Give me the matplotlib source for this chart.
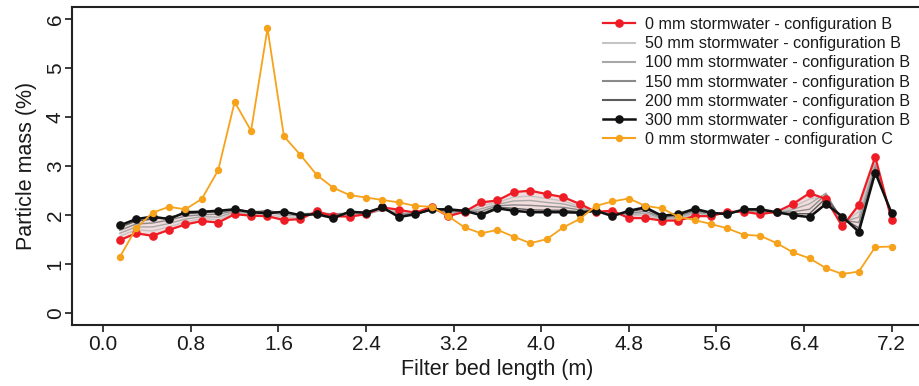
import matplotlib
matplotlib.use("Agg")
import matplotlib.pyplot as plt
import numpy as np

plt.rcParams["font.family"] = ["Liberation Sans", "DejaVu Sans"]

# Positions along the filter bed (m), one sample every 0.15 m
posicions = [0.15, 0.30, 0.45, 0.60, 0.75, 0.90, 1.05, 1.20, 1.35, 1.50, 1.65, 1.80,
             1.95, 2.10, 2.25, 2.40, 2.55, 2.70, 2.85, 3.00, 3.15, 3.30, 3.45, 3.60,
             3.75, 3.90, 4.05, 4.20, 4.35, 4.50, 4.65, 4.80, 4.95, 5.10, 5.25, 5.40,
             5.55, 5.70, 5.85, 6.00, 6.15, 6.30, 6.45, 6.60, 6.75, 6.90, 7.05, 7.20]

# Particle mass (%) for configuration B
b_0mm = [1.49, 1.63, 1.58, 1.70, 1.81, 1.88, 1.85, 2.02, 1.99, 1.98, 1.90, 1.92,
         2.08, 1.98, 1.97, 2.02, 2.16, 2.11, 2.05, 2.17, 1.98, 2.07, 2.26, 2.30,
         2.47, 2.50, 2.43, 2.37, 2.23, 2.07, 2.09, 1.94, 1.94, 1.89, 1.89, 1.98,
         1.98, 2.07, 2.07, 2.02, 2.07, 2.23, 2.45, 2.33, 1.77, 2.21, 3.19, 1.90]
b_50mm = [1.57, 1.70, 1.68, 1.76, 1.86, 1.93, 1.91, 2.05, 2.01, 2.03, 1.95, 1.96,
          2.06, 2.00, 2.00, 2.00, 2.12, 2.07, 2.03, 2.14, 2.02, 2.05, 2.19, 2.26,
          2.37, 2.39, 2.34, 2.29, 2.18, 2.06, 2.06, 1.98, 2.00, 1.92, 1.93, 2.02,
          2.00, 2.06, 2.08, 2.05, 2.05, 2.17, 2.33, 2.38, 1.82, 2.07, 3.11, 1.93]
b_100mm = [1.63, 1.76, 1.76, 1.83, 1.92, 1.97, 1.96, 2.07, 2.04, 2.08, 1.99, 2.00,
           2.05, 2.02, 2.02, 2.03, 2.10, 2.04, 2.01, 2.12, 2.05, 2.06, 2.13, 2.22,
           2.29, 2.30, 2.26, 2.23, 2.15, 2.08, 2.04, 2.01, 2.04, 1.94, 1.95, 2.05,
           2.01, 2.05, 2.09, 2.07, 2.04, 2.12, 2.23, 2.45, 1.86, 1.96, 3.04, 1.96]
b_150mm = [1.69, 1.82, 1.84, 1.90, 1.98, 2.01, 2.02, 2.09, 2.06, 2.10, 2.03, 2.03,
           2.04, 2.03, 2.04, 2.05, 2.14, 2.01, 2.04, 2.10, 2.08, 2.08, 2.08, 2.19,
           2.21, 2.20, 2.18, 2.16, 2.11, 2.07, 2.02, 2.04, 2.08, 1.96, 1.98, 2.08,
           2.03, 2.04, 2.10, 2.09, 2.06, 2.07, 2.12, 2.42, 1.90, 1.85, 2.98, 1.99]
b_200mm = [1.75, 1.88, 1.92, 1.96, 2.03, 2.05, 2.07, 2.11, 2.08, 2.06, 2.06, 2.01,
           2.03, 1.98, 2.06, 2.06, 2.15, 1.98, 2.02, 2.11, 2.10, 2.07, 2.03, 2.16,
           2.14, 2.11, 2.10, 2.10, 2.07, 2.09, 2.00, 2.07, 2.13, 1.98, 2.00, 2.11,
           2.04, 2.03, 2.11, 2.11, 2.05, 2.03, 2.03, 2.35, 1.94, 1.74, 2.92, 2.02]
b_300mm = [1.79, 1.92, 1.97, 1.92, 2.06, 2.07, 2.09, 2.12, 2.06, 2.04, 2.07, 2.00,
           2.02, 1.94, 2.07, 2.05, 2.16, 1.96, 2.02, 2.12, 2.12, 2.09, 2.00, 2.14,
           2.09, 2.06, 2.06, 2.06, 2.05, 2.09, 1.98, 2.09, 2.16, 1.99, 2.02, 2.13,
           2.05, 2.02, 2.12, 2.12, 2.06, 2.00, 1.96, 2.23, 1.97, 1.66, 2.87, 2.04]

# Particle mass (%) for configuration C
c_0mm = [1.14, 1.73, 2.05, 2.17, 2.12, 2.33, 2.92, 4.31, 3.72, 5.81, 3.61, 3.23,
         2.82, 2.56, 2.41, 2.36, 2.31, 2.26, 2.19, 2.17, 1.98, 1.75, 1.63, 1.70,
         1.56, 1.43, 1.51, 1.75, 1.92, 2.19, 2.28, 2.34, 2.19, 2.14, 1.97, 1.90,
         1.82, 1.73, 1.60, 1.58, 1.43, 1.24, 1.12, 0.92, 0.80, 0.85, 1.35, 1.36]

grisos = {
    "50 mm stormwater - configuration B": (b_50mm, "#c4c4c4"),
    "100 mm stormwater - configuration B": (b_100mm, "#a8a8a8"),
    "150 mm stormwater - configuration B": (b_150mm, "#8a8a8a"),
    "200 mm stormwater - configuration B": (b_200mm, "#5c5c5c"),
}

VERMELL = "#ee1c24"
TARONJA = "#f7a21b"
NEGRE = "#111111"
TEXT = "#1a1a1a"


def dibuixa_corbes(ax):
    x = np.array(posicions)
    # Zona entre 0 mm i 300 mm de configuracio B
    ax.fill_between(x, b_0mm, b_300mm, color="#f3dcdc", lw=0, zorder=1)
    ax.plot(x, b_0mm, color=VERMELL, lw=1.6, marker="o", ms=5.2,
            label="0 mm stormwater - configuration B", zorder=3)
    for etiqueta, (valors, color) in grisos.items():
        ax.plot(x, valors, color=color, lw=1.0, label=etiqueta, zorder=2)
    ax.plot(x, b_300mm, color=NEGRE, lw=1.8, marker="o", ms=5.2,
            label="300 mm stormwater - configuration B", zorder=4)
    ax.plot(x, c_0mm, color=TARONJA, lw=1.3, marker="o", ms=4.3,
            label="0 mm stormwater - configuration C", zorder=5)


def configura_eixos(ax):
    ax.set_xlim(-0.288, 7.488)
    ax.set_ylim(-0.24, 6.24)
    ax.set_xticks(np.arange(0, 7.3, 0.8))
    ax.set_xticklabels([f"{v:.1f}" for v in np.arange(0, 7.3, 0.8)])
    ax.set_yticks(range(0, 7))
    for lab in ax.get_yticklabels():
        lab.set_rotation(90)
        lab.set_va("center")
    ax.tick_params(axis="both", direction="out", length=5, width=1.2,
                   labelsize=15, colors=TEXT, pad=2)
    ax.tick_params(axis="y", pad=0)
    for lado in ("left", "bottom", "top"):
        ax.spines[lado].set_linewidth(1.5)
        ax.spines[lado].set_color("#222222")
    ax.spines["right"].set_visible(False)
    ax.set_xlabel("Filter bed length (m)", fontsize=15.5, color=TEXT, labelpad=4)
    ax.set_ylabel("Particle mass (%)", fontsize=15.5, color=TEXT, labelpad=6)


def main():
    fig = plt.figure(figsize=(9.19, 3.86), dpi=100)
    ax = fig.add_axes([71.7 / 919, 1 - 325 / 386, (923.2 - 71.7) / 919, (325 - 7.3) / 386])
    dibuixa_corbes(ax)
    configura_eixos(ax)
    leg = fig.legend(loc="upper left", bbox_to_anchor=(603 / 919, 1 - 17 / 386),
                     frameon=False, fontsize=11.6, handlelength=2.0, handletextpad=0.6,
                     labelspacing=0.26, borderpad=0, borderaxespad=0, labelcolor=TEXT)
    for linia in leg.get_lines():
        linia.set_linewidth(max(linia.get_linewidth(), 1.5))
    fig.savefig("out.png", dpi=100)


if __name__ == "__main__":
    main()
